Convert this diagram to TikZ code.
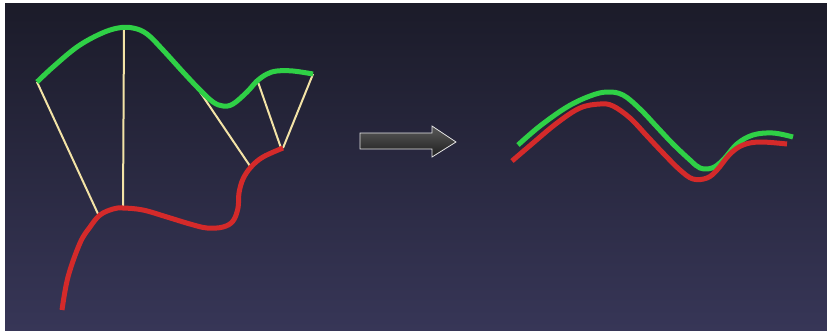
\documentclass[tikz,border=0pt]{standalone}
\usetikzlibrary{calc}
\definecolor{bgtop}{HTML}{1B1B29}
\definecolor{bgbot}{HTML}{373657}
\definecolor{cgreen}{HTML}{2FD046}
\definecolor{cred}{HTML}{D42A2A}
\definecolor{cyel}{HTML}{F3E3A6}
\definecolor{arrtop}{HTML}{5A5A5A}
\definecolor{arrbot}{HTML}{1E1E1E}
\tikzset{
  gline/.style={cgreen, line width=5pt, line cap=butt, line join=round},
  rline/.style={cred, line width=5pt, line cap=butt, line join=round},
  yline/.style={cyel, line width=2pt},
}
\begin{document}
\begin{tikzpicture}[x=1pt,y=-1pt]
\useasboundingbox (0,0) rectangle (827,333);
\fill[white] (0,0) rectangle (827,333);
\shade[top color=bgtop, bottom color=bgbot] (5,3) rectangle (827,330);
% named endpoints of correspondence lines
\coordinate (g1) at (37,82);
\coordinate (g2) at (124,29);
\coordinate (g3) at (200,92);
\coordinate (g4) at (258,82);
\coordinate (g5) at (313,74);
\coordinate (r1) at (99,216);
\coordinate (r2) at (123,208);
\coordinate (r3) at (250,166);
\coordinate (r4) at (281,148);
\coordinate (r5) at (283,148);
% correspondence lines
\draw[yline] (g1) -- (r1);
\draw[yline] (g2) -- (r2);
\draw[yline] (g3) -- (r3);
\draw[yline] (g4) -- (r4);
\draw[yline] (g5) -- (r5);
% left green curve
\draw[gline] plot[smooth, tension=0.6] coordinates {
 (37,82) (53,67) (77,47) (100,34) (118,28) (133,28) (147,34) (163,50) (183,72)
 (200,90) (213,102) (223,106) (233,104) (247,92) (257,81) (267,74) (277,71) (293,71) (313,74)};
% left red curve
\draw[rline] plot[smooth, tension=0.6] coordinates {
 (62,310) (68,277) (80,243) (90,227) (100,215) (113,209) (123,208) (143,210) (167,217)
 (190,224) (207,228) (223,227) (233,221) (238,208) (239,193) (243,179) (251,167) (263,157) (283,148)};
% arrow
\coordinate (a0) at (360,133);
\shade[top color=arrtop, bottom color=arrbot, draw=white!80!gray, line width=0.8pt]
 (360,133) -- (432,133) -- (432,126) -- (456,142) -- (432,157) -- (432,149) -- (360,149) -- cycle;
% right green curve
\draw[gline] plot[smooth, tension=0.6] coordinates {
 (518,145) (540,126) (567,107) (590,96) (607,92) (623,95) (640,109) (657,127) (673,144)
 (690,160) (700,168) (712,168) (723,160) (737,144) (753,135) (773,133) (793,137)};
% right red curve
\draw[rline] plot[smooth, tension=0.6] coordinates {
 (512,161) (533,143) (557,123) (580,108) (600,104) (613,106) (630,118) (647,136) (663,153)
 (680,170) (693,179) (707,178) (717,170) (730,154) (743,145) (760,142) (787,144)};
\end{tikzpicture}
\end{document}
